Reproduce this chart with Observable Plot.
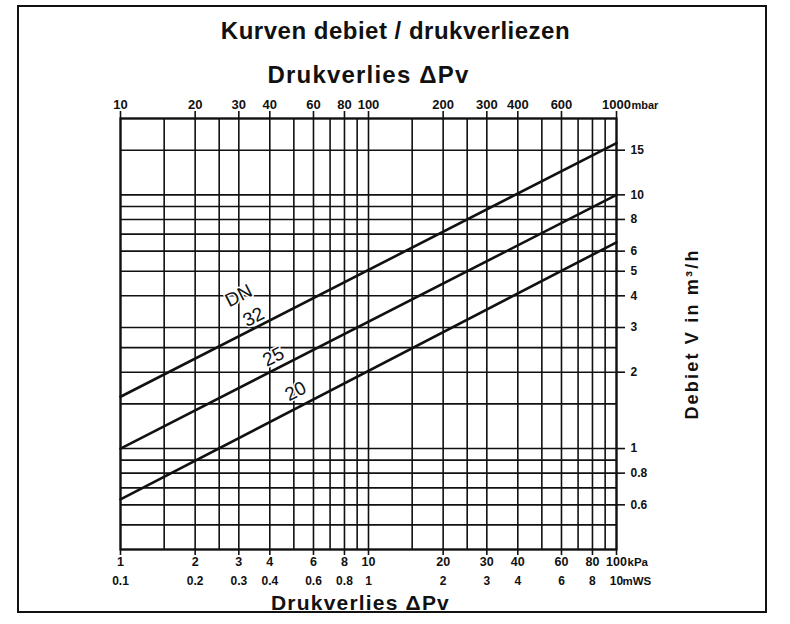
<!DOCTYPE html>
<html><head><meta charset="utf-8">
<script src="https://cdn.jsdelivr.net/npm/d3@7"></script>
<script src="https://cdn.jsdelivr.net/npm/@observablehq/plot@0.6"></script>
<style>
body{margin:0;background:#fff;}
#wrap{position:relative;width:790px;height:624px;overflow:hidden;}
#border{position:absolute;left:17px;top:5px;width:746px;height:604px;border:2.5px solid #111;pointer-events:none;}
</style></head><body><div id="wrap"><div id="border"></div></div>
<script>
// pressure drop (mbar) at the two ends of each curve
const pressure = [10, 1000];
// flow (m³/h) per nominal diameter
const flowDN32 = [1.6, 16];
const flowDN25 = [1.0, 10];
const flowDN20 = [0.63, 6.5];
const seriesNames = ["DN 32", "DN 25", "DN 20"];

// grid lines
const xGrid = [10,15,20,25,30,40,50,60,70,80,90,100,150,200,250,300,400,500,600,700,800,900,1000];
const yGrid = [0.4,0.5,0.6,0.7,0.8,0.9,1,1.5,2,2.5,3,4,5,6,7,8,9,10,15,20];

// tick labels
const mbarTicks = [10,20,30,40,60,80,100,200,300,400,600,1000];
const bottomTicks = [10,20,30,40,60,80,100,200,300,400,600,800,1000];
const kPaLabels = ["1","2","3","4","6","8","10","20","30","40","60","80","100"];
const mwsLabels = ["0.1","0.2","0.3","0.4","0.6","0.8","1","2","3","4","6","8","10"];
const flowTicks = [0.6,0.8,1,2,3,4,5,6,8,10,15];
const flowLabels = ["0.6","0.8","1","2","3","4","5","6","8","10","15"];

// curve labels
const curveLabels = ["DN","32","25","20"];
const curveLabelX = [30.0,34.4,41.4,50.8];
const curveLabelY = [4.0,3.3,2.3,1.68];

const rows = [];
[flowDN32, flowDN25, flowDN20].forEach((arr, k) => {
  pressure.forEach((p, i) => rows.push({s: seriesNames[k], p, q: arr[i]}));
});
const labelRows = curveLabels.map((t, i) => ({t, x: curveLabelX[i], y: curveLabelY[i]}));
const ink = "#111";
const W = 790, H = 624, mL = 120, mR = 174, mT = 118, mB = 75;
const frameW = W - mL - mR, frameH = H - mT - mB;

const chart = Plot.plot({
  width: W, height: H,
  marginLeft: mL, marginRight: mR, marginTop: mT, marginBottom: mB,
  style: {fontFamily: "'Liberation Sans', Arial, sans-serif", fontWeight: "bold", color: ink, background: "transparent"},
  x: {type: "log", domain: [10, 1000], axis: null},
  y: {type: "log", domain: [0.4, 20], axis: null},
  marks: [
    Plot.ruleX(xGrid, {stroke: ink, strokeWidth: 1.6}),
    Plot.ruleY(yGrid, {stroke: ink, strokeWidth: 1.6}),
    Plot.frame({stroke: ink, strokeWidth: 2.2}),
    Plot.line(rows, {x: "p", y: "q", z: "s", stroke: ink, strokeWidth: 2.6}),
    // tick stubs outside the frame
    Plot.ruleX(mbarTicks, {stroke: ink, strokeWidth: 1.6, insetTop: -7, insetBottom: frameH}),
    Plot.ruleX(bottomTicks, {stroke: ink, strokeWidth: 1.6, insetTop: frameH, insetBottom: -6}),
    Plot.ruleY(flowTicks, {stroke: ink, strokeWidth: 1.6, insetLeft: frameW, insetRight: -9}),
    // tick labels
    Plot.text(mbarTicks, {x: d => d, text: d => String(d), frameAnchor: "top", dy: -10, lineAnchor: "bottom", fontSize: 13}),
    Plot.text(bottomTicks, {x: d => d, text: (d, i) => kPaLabels[i], frameAnchor: "bottom", dy: 8, lineAnchor: "top", fontSize: 12.5}),
    Plot.text(bottomTicks, {x: d => d, text: (d, i) => mwsLabels[i], frameAnchor: "bottom", dy: 27, lineAnchor: "top", fontSize: 12}),
    Plot.text(flowTicks, {y: d => d, text: (d, i) => flowLabels[i], frameAnchor: "right", dx: 14, textAnchor: "start", fontSize: 12}),
    // units
    Plot.text([{x: 1000, t: "mbar"}], {x: "x", text: "t", frameAnchor: "top", dy: -10, dx: 15, lineAnchor: "bottom", textAnchor: "start", fontSize: 11}),
    Plot.text([{x: 1000, t: "kPa"}], {x: "x", text: "t", frameAnchor: "bottom", dy: 8, dx: 11, lineAnchor: "top", textAnchor: "start", fontSize: 11.5}),
    Plot.text([{x: 1000, t: "mWS"}], {x: "x", text: "t", frameAnchor: "bottom", dy: 27, dx: 6, lineAnchor: "top", textAnchor: "start", fontSize: 11.5}),
    // curve labels
    Plot.text(labelRows, {x: "x", y: "y", text: "t", rotate: -27, fontSize: 19, fontWeight: "normal", fill: ink, stroke: "white", strokeWidth: 3}),
    // titles
    Plot.text(["Kurven debiet / drukverliezen"], {frameAnchor: "top", dy: -97, dx: 27, fontSize: 24}),
    Plot.text(["Drukverlies \u0394Pv"], {frameAnchor: "top", dy: -53, dx: 0, fontSize: 24}),
    Plot.text(["Drukverlies \u0394Pv"], {frameAnchor: "bottom", dy: 60, dx: -8, fontSize: 21}),
    Plot.text(["Debiet V in m\u00b3/h"], {frameAnchor: "right", dx: 76, rotate: -90, textAnchor: "middle", fontSize: 18})
  ]
});
const sel = d3.select(chart).selectAll("text");
sel.filter(function() { return this.textContent.startsWith("Debiet"); }).attr("letter-spacing", "2.2px");
sel.filter(function() { return this.textContent.startsWith("Drukverlies"); }).attr("letter-spacing", "1.2px");
sel.filter(function() { return this.textContent.startsWith("Kurven"); }).attr("letter-spacing", "0.5px");
document.getElementById("wrap").prepend(chart);
</script>
</body></html>
